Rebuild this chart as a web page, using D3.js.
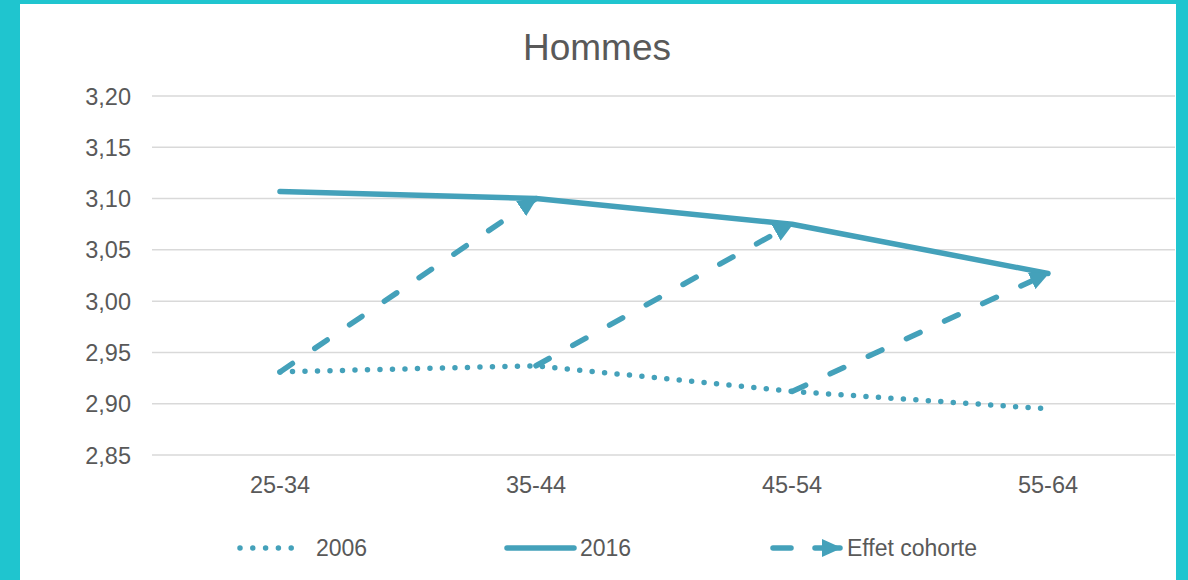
<!DOCTYPE html>
<html>
<head>
<meta charset="utf-8">
<script src="https://cdn.jsdelivr.net/npm/d3@7"></script>
<style>
  html, body { margin: 0; padding: 0; background: #fff; }
  svg { display: block; }
  text { font-family: "Liberation Sans", Arial, sans-serif; fill: #595959; }
</style>
</head>
<body>
<svg id="chart" width="1188" height="580"></svg>
<script>
const title = "Hommes";
const categories = ["25-34", "35-44", "45-54", "55-64"];
const values2006 = [2.931, 2.937, 2.912, 2.895];
const values2016 = [3.107, 3.100, 3.075, 3.027];
const yTicks = [2.85, 2.90, 2.95, 3.00, 3.05, 3.10, 3.15, 3.20];
const legendLabels = ["2006", "2016", "Effet cohorte"];

const W = 1188, H = 580;
const color = "#44a1ba";
const frame = "#1fc5cf";

const svg = d3.select("#chart");

// frame
svg.append("rect").attr("x", 0).attr("y", 0).attr("width", W).attr("height", H).attr("fill", frame);
svg.append("rect").attr("x", 20).attr("y", 4).attr("width", 1156).attr("height", H - 4).attr("fill", "#fff");

const x = d3.scaleBand().domain(categories).range([152, 1176]).padding(0);
const y = d3.scaleLinear().domain([2.85, 3.20]).range([455, 96]);
const cx = c => x(c) + x.bandwidth() / 2;

// title
svg.append("text").attr("x", 597).attr("y", 47).attr("text-anchor", "middle")
  .attr("dominant-baseline", "central").style("font-size", "37px").text(title);

// grid
svg.append("g").selectAll("line").data(yTicks).join("line")
  .attr("x1", 152).attr("x2", 1175)
  .attr("y1", d => y(d)).attr("y2", d => y(d))
  .attr("stroke", "#d9d9d9").attr("stroke-width", 1.5);

// y axis labels
const fmt = d => d3.format(".2f")(d).replace(".", ",");
const yAxis = d3.axisLeft(y).tickValues(yTicks).tickFormat(fmt).tickSize(0).tickPadding(0);
const gy = svg.append("g").attr("transform", "translate(131,0)").call(yAxis);
gy.select(".domain").remove();
gy.selectAll("text").style("font-size", "23.5px").attr("fill", "#595959")
  .attr("dy", null).attr("dominant-baseline", "central");

// x axis labels
const xAxis = d3.axisBottom(x).tickSize(0).tickPadding(0);
const gx = svg.append("g").attr("transform", "translate(0,485)").call(xAxis);
gx.select(".domain").remove();
gx.selectAll("text").style("font-size", "23.5px").attr("fill", "#595959")
  .attr("dy", null).attr("dominant-baseline", "central");

// marker
const defs = svg.append("defs");
defs.append("marker").attr("id", "arrow")
  .attr("viewBox", "0 0 20 18").attr("refX", 18).attr("refY", 9)
  .attr("markerWidth", 20).attr("markerHeight", 18)
  .attr("markerUnits", "userSpaceOnUse").attr("orient", "auto")
  .append("path").attr("d", "M0,0 L20,9 L0,18 Z").attr("fill", color);

const line = d3.line().x(d => cx(d.c)).y(d => y(d.v));
const d2006 = categories.map((c, i) => ({ c, v: values2006[i] }));
const d2016 = categories.map((c, i) => ({ c, v: values2016[i] }));

// 2006 dotted
svg.append("path").attr("d", line(d2006)).attr("fill", "none")
  .attr("stroke", color).attr("stroke-width", 5.5)
  .attr("stroke-linecap", "round").attr("stroke-dasharray", "0,12.5");

// 2016 solid
svg.append("path").attr("d", line(d2016)).attr("fill", "none")
  .attr("stroke", color).attr("stroke-width", 5.5)
  .attr("stroke-linecap", "round").attr("stroke-linejoin", "round");

// cohort arrows
const cohort = categories.slice(0, -1).map((c, i) => [
  { c, v: values2006[i] }, { c: categories[i + 1], v: values2016[i + 1] }
]);
svg.append("g").selectAll("path").data(cohort).join("path")
  .attr("d", d => line(d)).attr("fill", "none")
  .attr("stroke", color).attr("stroke-width", 5.5)
  .attr("stroke-linecap", "round").attr("stroke-dasharray", "15,27")
  .attr("marker-end", "url(#arrow)");

// legend
const ly = 548;
const lg = svg.append("g");
lg.append("line").attr("x1", 240).attr("x2", 304).attr("y1", ly).attr("y2", ly)
  .attr("stroke", color).attr("stroke-width", 5.5).attr("stroke-linecap", "round")
  .attr("stroke-dasharray", "0,12.8");
lg.append("text").attr("x", 316).attr("y", ly).attr("dominant-baseline", "central")
  .style("font-size", "23px").text(legendLabels[0]);

lg.append("line").attr("x1", 507).attr("x2", 574).attr("y1", ly).attr("y2", ly)
  .attr("stroke", color).attr("stroke-width", 5.5).attr("stroke-linecap", "round");
lg.append("text").attr("x", 580).attr("y", ly).attr("dominant-baseline", "central")
  .style("font-size", "23px").text(legendLabels[1]);

lg.append("line").attr("x1", 773).attr("x2", 791).attr("y1", ly).attr("y2", ly)
  .attr("stroke", color).attr("stroke-width", 5.5).attr("stroke-linecap", "round");
lg.append("line").attr("x1", 815).attr("x2", 840).attr("y1", ly).attr("y2", ly)
  .attr("stroke", color).attr("stroke-width", 5.5).attr("stroke-linecap", "round")
  .attr("marker-end", "url(#arrow)");
lg.append("text").attr("x", 847).attr("y", ly).attr("dominant-baseline", "central")
  .style("font-size", "23px").text(legendLabels[2]);
</script>
</body>
</html>
